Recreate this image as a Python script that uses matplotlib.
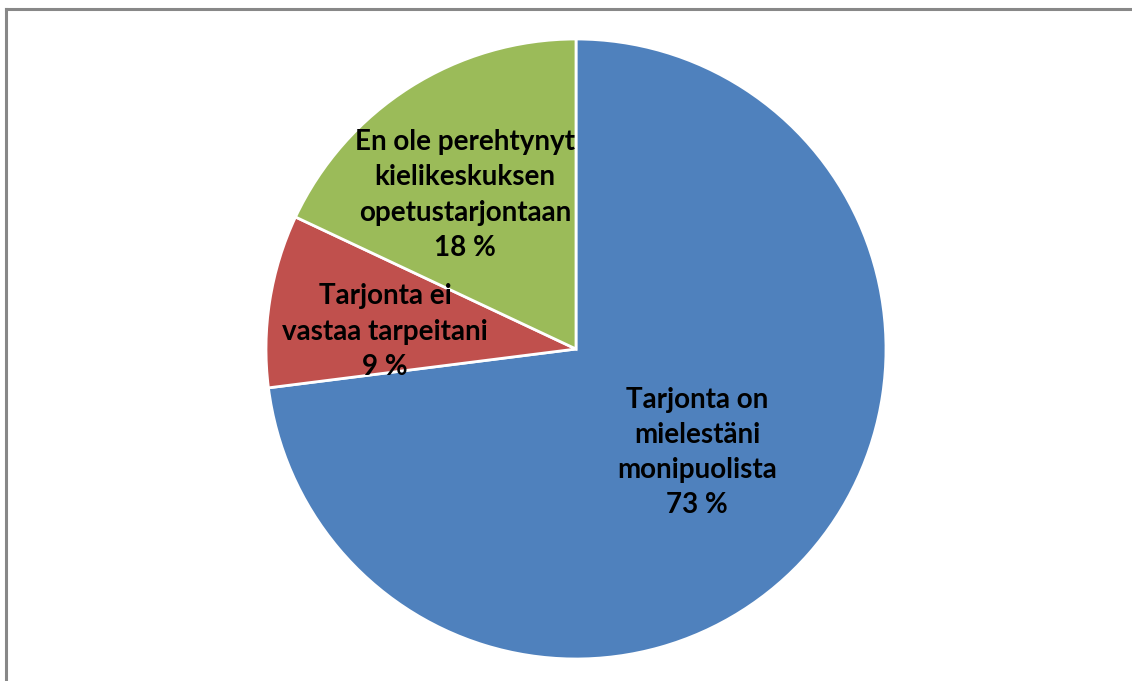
import matplotlib.pyplot as plt
from matplotlib.lines import Line2D

labels = ["Tarjonta on\nmielestäni\nmonipuolista", "Tarjonta ei\nvastaa tarpeitani", "En ole perehtynyt\nkielikeskuksen\nopetustarjontaan"]
values = [73, 9, 18]
colors = ["#4F81BD", "#C0504D", "#9BBB59"]
# label centres in pie units (radius 1)
label_pos = [(0.39, -0.334), (-0.616, 0.056), (-0.358, 0.497)]

W, H = 1132, 681
fig = plt.figure(figsize=(W / 100, H / 100), dpi=100)
cx, cy, r = 576, 332, 310  # centre in pixel coords from bottom
ax = fig.add_axes([(cx - r) / W, (cy - r) / H, 2 * r / W, 2 * r / H])

wedges, _ = ax.pie(values, colors=colors, startangle=90, counterclock=False,
                   radius=1, wedgeprops=dict(edgecolor="white", linewidth=2))
ax.set_xlim(-1, 1)
ax.set_ylim(-1, 1)
ax.set_aspect("equal")
ax.axis("off")

for lab, v, (x, y) in zip(labels, values, label_pos):
    ax.text(x, y, f"{lab}\n{v} %", ha="center", va="center", fontsize=20,
            fontweight="bold", family="Lato", linespacing=1.44, color="black")

# chart frame (top and left edges visible)
fig.add_artist(Line2D([6 / W, 1], [1 - 9 / H, 1 - 9 / H], color="#888888", lw=2.2,
                      transform=fig.transFigure))
fig.add_artist(Line2D([6 / W, 6 / W], [0, 1 - 9 / H], color="#888888", lw=2.2,
                      transform=fig.transFigure))

fig.savefig("out.png", dpi=100, facecolor="white")
